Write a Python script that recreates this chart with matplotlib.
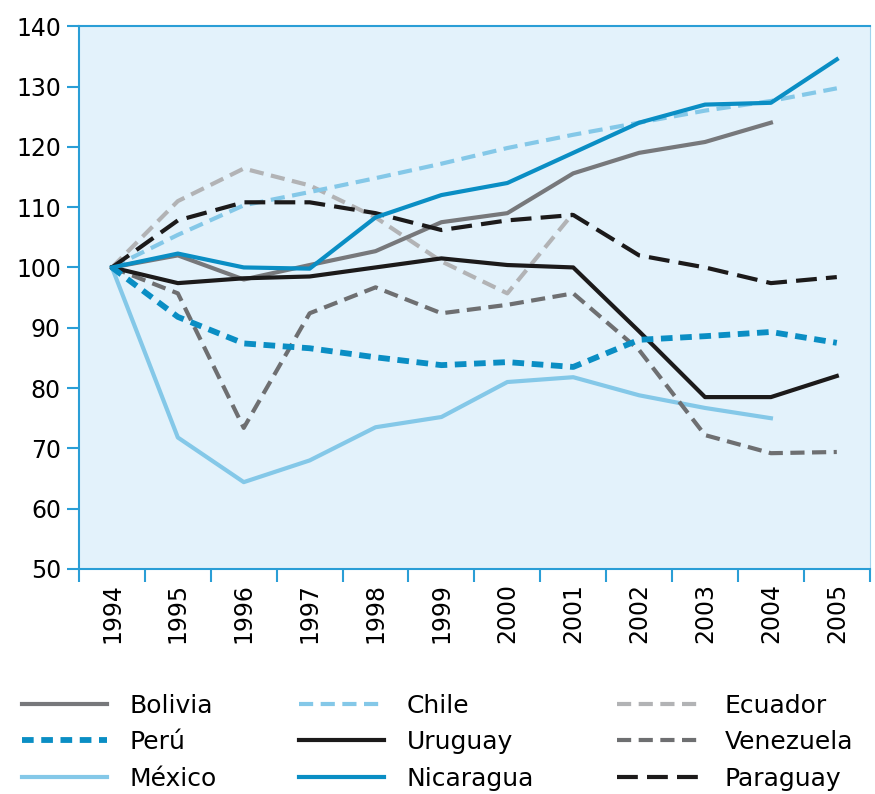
import numpy as np
from matplotlib import pyplot as plt

years = list(range(1994, 2006))

bolivia = [100, 102, 98, 100.4, 102.7, 107.5, 109, 115.6, 119, 120.8, 124]
chile = [100, 105.4, 110.3, 112.5, 114.8, 117.2, 119.8, 122, 124, 126, 127.6, 129.7]
ecuador = [100, 111, 116.4, 113.6, 108.3, 101, 95.7, 109]
peru = [100, 91.8, 87.4, 86.6, 85.1, 83.8, 84.3, 83.5, 88, 88.6, 89.3, 87.5]
uruguay = [100, 97.4, 98.2, 98.5, 100, 101.5, 100.4, 100, 89.4, 78.5, 78.5, 82]
venezuela = [100, 95.7, 73.4, 92.4, 96.7, 92.4, 93.8, 95.7, 86.3, 72.2, 69.2, 69.4]
mexico = [100, 71.8, 64.4, 68, 73.5, 75.2, 81, 81.8, 78.8, 76.7, 75]
nicaragua = [100, 102.3, 100, 99.8, 108.3, 112, 114, 119, 124, 127, 127.3, 134.5]
paraguay = [100, 107.8, 110.8, 110.8, 109, 106.2, 107.8, 108.7, 102, 100, 97.4, 98.4]

blue = '#0a8ec4'
lightblue = '#84c8e8'
spine = '#2a9ed6'

fig = plt.figure(figsize=(8.75, 7.94), dpi=100)
ax = fig.add_axes([0.0903, 0.2834, 0.9037, 0.6836])
ax.set_facecolor('#e3f2fb')

lw = 3.0
dash = (0, (3.4, 1.8))
# order = legend order (column-wise)
series = [
    ('Bolivia', bolivia, '#77787b', '-', lw),
    ('Perú', peru, blue, (0, (2.0, 1.3)), 4.2),
    ('México', mexico, lightblue, '-', lw),
    ('Chile', chile, lightblue, dash, lw),
    ('Uruguay', uruguay, '#1c1a1a', '-', lw),
    ('Nicaragua', nicaragua, blue, '-', lw),
    ('Ecuador', ecuador, '#b2b3b5', dash, lw),
    ('Venezuela', venezuela, '#6e6f71', dash, lw),
    ('Paraguay', paraguay, '#1c1a1a', (0, (5.0, 2.2)), lw),
]
# draw order so that the blue lines sit on top
zorders = {'Bolivia': 4, 'Perú': 5, 'México': 3, 'Chile': 2, 'Uruguay': 4,
           'Nicaragua': 6, 'Ecuador': 1, 'Venezuela': 3, 'Paraguay': 4}
for name, vals, col, ls, w in series:
    ax.plot(years[:len(vals)], vals, color=col, linestyle=ls, linewidth=w,
            label=name, zorder=zorders[name])

ax.set_xlim(1993.5, 2005.5)
ax.set_ylim(50, 140)
ax.set_yticks(np.arange(50, 141, 10))
ax.set_xticks(years)
ax.set_xticklabels([str(y) for y in years], rotation=90)
ax.set_xticks(np.arange(1993.5, 2005.6, 1), minor=True)
ax.tick_params(axis='x', which='major', length=0, pad=10, labelsize=17)
ax.tick_params(axis='x', which='minor', length=9, width=1.5, color=spine)
ax.tick_params(axis='y', length=9, width=1.5, color=spine, labelsize=17, pad=4)
for s in ax.spines.values():
    s.set_color(spine)
    s.set_linewidth(1.5)
ax.spines['right'].set_linewidth(0.8)
ax.spines['right'].set_color('#9fd3ee')

fig.legend(loc='lower center', bbox_to_anchor=(0.5, -0.024), ncol=3,
           frameon=False, fontsize=18, handlelength=3.4, columnspacing=3.3,
           handletextpad=0.9, labelspacing=0.5)

plt.savefig('out.png', dpi=100)
